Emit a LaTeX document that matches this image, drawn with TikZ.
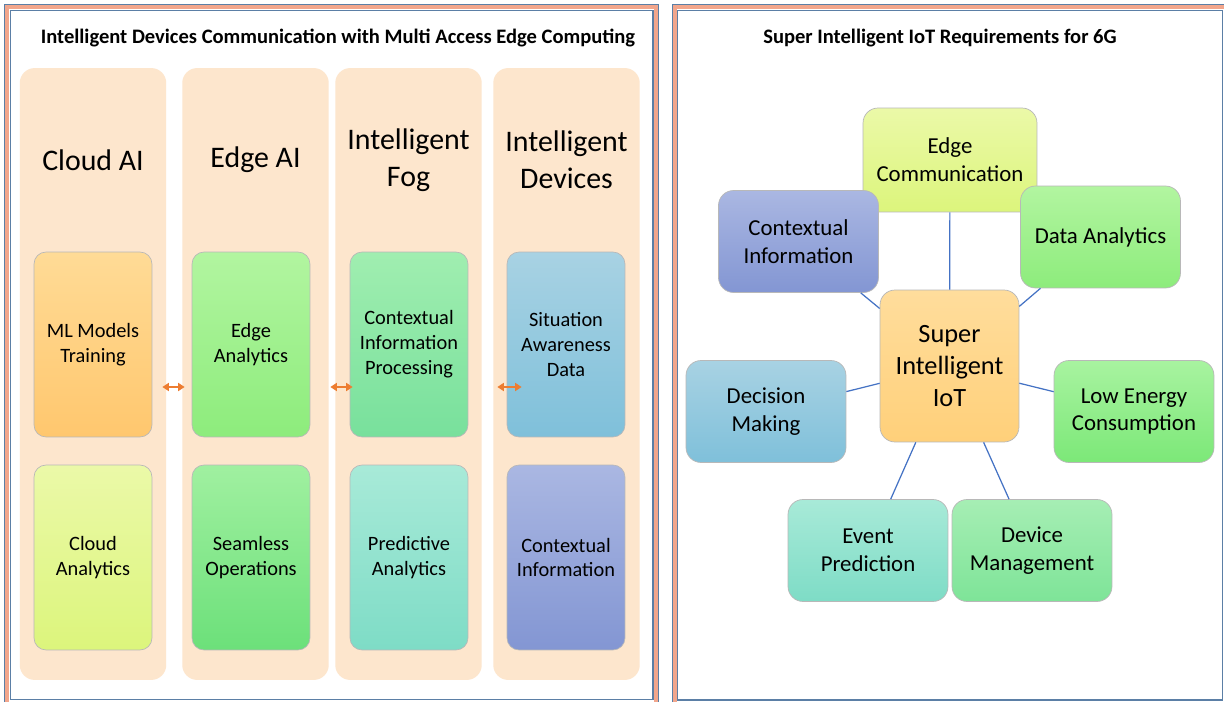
\documentclass[tikz,border=0pt]{standalone}
\usepackage{fontspec}
\setmainfont{Carlito}
\usetikzlibrary{arrows.meta}

\definecolor{framesalmon}{HTML}{F2A68C}
\definecolor{frameblue}{HTML}{5B7FA6}
\definecolor{colpeach}{HTML}{FDE6CD}
\definecolor{linkblue}{HTML}{4472C4}
\definecolor{arroworange}{HTML}{ED7D31}
% box shades (top / bottom)
\definecolor{orangeT}{HTML}{FFDB96}\definecolor{orangeB}{HTML}{FFC76E}
\definecolor{limeT}{HTML}{EBF9A8}\definecolor{limeB}{HTML}{DCF57C}
\definecolor{greenT}{HTML}{B2F5A0}\definecolor{greenB}{HTML}{8DEC7C}
\definecolor{mintT}{HTML}{A0F0A0}\definecolor{mintB}{HTML}{6CE07A}
\definecolor{seaT}{HTML}{A0EEB0}\definecolor{seaB}{HTML}{78E09C}
\definecolor{tealT}{HTML}{A8EAD8}\definecolor{tealB}{HTML}{7EDCC6}
\definecolor{skyT}{HTML}{A8D2E3}\definecolor{skyB}{HTML}{7FC0DA}
\definecolor{lilacT}{HTML}{AAB7E2}\definecolor{lilacB}{HTML}{8396D3}
\definecolor{sunT}{HTML}{FFDD9C}\definecolor{sunB}{HTML}{FFD07A}
\definecolor{leafT}{HTML}{A8F3A0}\definecolor{leafB}{HTML}{7CE878}
\definecolor{jadeT}{HTML}{A6EEB4}\definecolor{jadeB}{HTML}{7EE498}

\begin{document}
\begin{tikzpicture}[x=0.02cm, y=-0.02cm,
colnode/.style={rounded corners=0.3cm, fill=colpeach, minimum width=2.93cm, minimum height=12.24cm},
headnode/.style={align=center, font=\fontsize{17}{21}\selectfont},
titlenode/.style={font=\bfseries\fontsize{11.7}{14}\selectfont},
leftnode/.style={rounded corners=0.24cm, draw=black!28, inner sep=0pt, minimum width=2.36cm, minimum height=3.7cm, align=center, font=\fontsize{11.6}{14.2}\selectfont},
rightnode/.style={rounded corners=0.3cm, draw=black!28, inner sep=0pt, minimum width=3.2cm, minimum height=2.04cm, align=center, font=\fontsize{13}{15.9}\selectfont},
shade/.style={top color=#1T, bottom color=#1B},
link/.style={draw=linkblue, line width=0.7pt},
dblarrow/.style={{Triangle[length=1.3mm,width=1.6mm]}-{Triangle[length=1.3mm,width=1.6mm]}, draw=arroworange, line width=0.9pt},
]
\useasboundingbox[fill=white] (0,0) rectangle (1224,702);
\clip (0,0) rectangle (1224,702);

%Frames
\draw[framesalmon, line width=2.4pt] (7,7) rectangle (656,716);
\draw[frameblue, line width=0.5pt] (4.5,4.5) rectangle (658.5,720);
\draw[frameblue, line width=0.8pt] (10.5,10.5) rectangle (653,699.5);
\draw[framesalmon, line width=2.4pt] (674.5,7) rectangle (1232,716);
\draw[frameblue, line width=0.5pt] (672,4.5) rectangle (1236,720);
\draw[frameblue, line width=0.8pt] (677.5,10.5) rectangle (1222.5,700);

%Left panel
\node[titlenode] (title_left) at (338,38) {Intelligent Devices Communication with Multi Access Edge Computing};

\node[colnode] (cloud_col) at (93,374) {};
\node[colnode] (edge_col) at (255.5,374) {};
\node[colnode] (fog_col) at (408.5,374) {};
\node[colnode] (dev_col) at (566.5,374) {};

\node[headnode] (cloud_head) at (93,160) {Cloud AI};
\node[headnode] (edge_head) at (255.5,160) {Edge AI};
\node[headnode] (fog_head) at (408.5,160) {Intelligent\\Fog};
\node[headnode] (dev_head) at (566.5,160) {Intelligent\\Devices};

\node[leftnode, shade=orange] (ml_training) at (93,344.5) {ML Models\\Training};
\node[leftnode, shade=lime] (cloud_analytics) at (93,557.5) {Cloud\\Analytics};
\node[leftnode, shade=green] (edge_analytics) at (251,344.5) {Edge\\Analytics};
\node[leftnode, shade=mint] (seamless_ops) at (251,557.5) {Seamless\\Operations};
\node[leftnode, shade=sea] (ctx_processing) at (409,344.5) {Contextual\\Information\\Processing};
\node[leftnode, shade=teal] (predictive) at (409,557.5) {Predictive\\Analytics};
\node[leftnode, shade=sky] (situation_data) at (566,344.5) {Situation\\Awareness\\Data};
\node[leftnode, shade=lilac] (ctx_info_dev) at (566,557.5) {Contextual\\Information};

\draw[dblarrow] ([shift={(10,42.5)}]ml_training.east) -- ([shift={(-7,42.5)}]edge_analytics.west);
\draw[dblarrow] ([shift={(20,42.5)}]edge_analytics.east) -- ([shift={(3,42.5)}]ctx_processing.west);
\draw[dblarrow] ([shift={(29,42.5)}]ctx_processing.east) -- ([shift={(15,42.5)}]situation_data.west);

%Right panel
\node[titlenode] (title_right) at (940,38) {Super Intelligent IoT Requirements for 6G};

\node[rightnode, minimum width=3.48cm, minimum height=2.08cm, shade=lime] (edge_comm) at (950,160) {Edge\\Communication};
\node[rightnode, shade=lilac] (ctx_info) at (798.5,241.5) {Contextual\\Information};
\node[rightnode, shade=green] (data_analytics) at (1100.5,237) {Data Analytics};
\node[rightnode, minimum width=2.78cm, minimum height=3.04cm, font=\fontsize{15}{18.1}\selectfont, shade=sun] (super_iot) at (949.5,366) {Super\\Intelligent\\IoT};
\node[rightnode, shade=sky] (decision) at (766,411.5) {Decision\\Making};
\node[rightnode, shade=leaf] (low_energy) at (1134,411.5) {Low Energy\\Consumption};
\node[rightnode, shade=teal] (event_pred) at (868,550.5) {Event\\Prediction};
\node[rightnode, shade=jade] (device_mgmt) at (1032,550.5) {Device\\Management};

%Lines
\draw[link] (super_iot) -- (edge_comm);
\draw[link] (super_iot) -- (ctx_info);
\draw[link] (super_iot) -- (data_analytics);
\draw[link] (super_iot) -- (decision);
\draw[link] (super_iot) -- (low_energy);
\draw[link] (super_iot) -- (event_pred);
\draw[link] (super_iot) -- (device_mgmt);

\end{tikzpicture}
\end{document}
